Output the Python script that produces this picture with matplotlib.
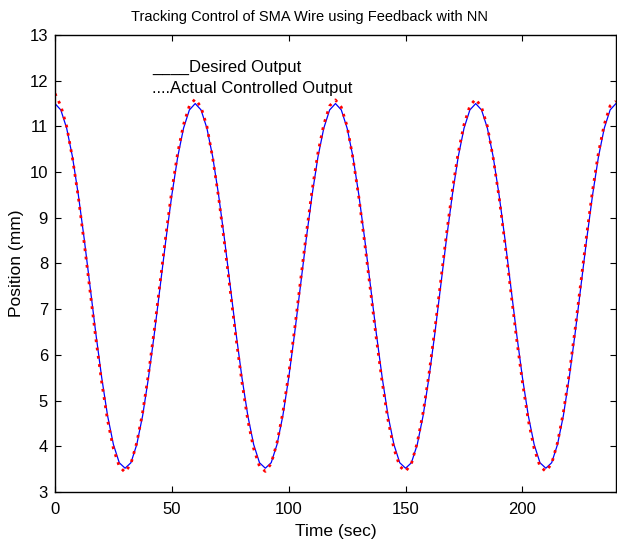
import matplotlib
matplotlib.use("Agg")
import matplotlib.pyplot as plt
import numpy as np

plt.rcParams['font.family'] = ['Liberation Sans', 'DejaVu Sans']

time_step = 2.5
desired = [
    11.50, 11.36, 10.96, 10.33, 9.50, 8.54, 7.50, 6.46, 5.50, 4.67, 4.04, 3.64,
    3.52, 3.64, 4.04, 4.67, 5.50, 6.46, 7.50, 8.54, 9.50, 10.33, 10.96, 11.36,
    11.50, 11.36, 10.96, 10.33, 9.50, 8.54, 7.50, 6.46, 5.50, 4.67, 4.04, 3.64,
    3.52, 3.64, 4.04, 4.67, 5.50, 6.46, 7.50, 8.54, 9.50, 10.33, 10.96, 11.36,
    11.50, 11.36, 10.96, 10.33, 9.50, 8.54, 7.50, 6.46, 5.50, 4.67, 4.04, 3.64,
    3.52, 3.64, 4.04, 4.67, 5.50, 6.46, 7.50, 8.54, 9.50, 10.33, 10.96, 11.36,
    11.50, 11.36, 10.96, 10.33, 9.50, 8.54, 7.50, 6.46, 5.50, 4.67, 4.04, 3.64,
    3.52, 3.64, 4.04, 4.67, 5.50, 6.46, 7.50, 8.54, 9.50, 10.33, 10.96, 11.36,
    11.50,
]
actual = [
    11.72, 11.45, 11.00, 10.30, 9.45, 8.45, 7.40, 6.35, 5.40, 4.57, 3.95, 3.56,
    3.43, 3.62, 4.08, 4.74, 5.58, 6.55, 7.60, 8.64, 9.60, 10.42, 11.04, 11.45,
    11.60, 11.42, 11.00, 10.30, 9.45, 8.45, 7.40, 6.35, 5.40, 4.57, 3.95, 3.56,
    3.45, 3.62, 4.08, 4.74, 5.58, 6.55, 7.60, 8.64, 9.60, 10.42, 11.04, 11.45,
    11.58, 11.42, 11.00, 10.30, 9.45, 8.45, 7.40, 6.35, 5.40, 4.57, 3.95, 3.56,
    3.45, 3.62, 4.08, 4.74, 5.58, 6.55, 7.60, 8.64, 9.60, 10.42, 11.04, 11.45,
    11.60, 11.42, 11.00, 10.30, 9.45, 8.45, 7.40, 6.35, 5.40, 4.57, 3.95, 3.56,
    3.45, 3.62, 4.08, 4.74, 5.58, 6.55, 7.60, 8.64, 9.60, 10.42, 11.04, 11.45,
    11.55,
]
xticks = [0, 50, 100, 150, 200]
yticks = [3, 4, 5, 6, 7, 8, 9, 10, 11, 12, 13]

t = np.arange(len(desired)) * time_step

fig = plt.figure(figsize=(6.17, 5.42), dpi=100)
ax = fig.add_axes([0.0891, 0.0923, 0.9092, 0.8431])
ax.plot(t, desired, color='#0000ff', linewidth=0.9)
ax.plot(t, actual, color='#ff0000', linestyle=(0, (1, 2)), linewidth=2.0)

ax.set_xlim(0, 240)
ax.set_ylim(3, 13)
ax.set_xticks(xticks)
ax.set_yticks(yticks)
ax.tick_params(direction='in', top=True, right=True, labelsize=12, length=4)
ax.tick_params(axis='x', pad=7)
ax.tick_params(axis='y', pad=5)
for s in ax.spines.values():
    s.set_linewidth(1.0)
ax.set_xlabel('Time (sec)', fontsize=12.5, labelpad=5)
ax.set_ylabel('Position (mm)', fontsize=12.5, labelpad=4)
ax.set_title('Tracking Control of SMA Wire using Feedback with NN', fontsize=10.5, pad=10, x=0.453)

ax.text(41.5, 12.30, '____Desired Output', fontsize=12, va='center', ha='left')
ax.text(41.5, 11.82, '....Actual Controlled Output', fontsize=12, va='center', ha='left')

fig.savefig('out.png', dpi=100)
